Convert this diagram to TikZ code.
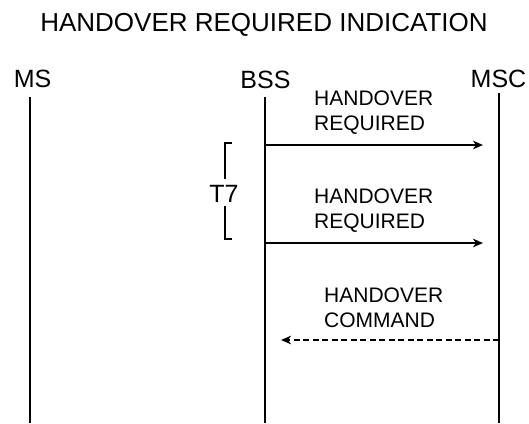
\documentclass[tikz,border=0pt]{standalone}
\usepackage{fontspec}
\setmainfont{Liberation Sans}
\usetikzlibrary{arrows.meta}
\tikzset{
    entity/.style={anchor=base, inner sep=0pt, font=\fontsize{25}{30}\selectfont},
    msg/.style={anchor=south west, inner sep=0pt, text depth=0pt, align=left, font=\fontsize{21}{25}\selectfont},
    lifeline/.style={line width=2pt},
    signal/.style={line width=2pt, -{Stealth[length=10pt,width=8.5pt,inset=3pt]}},
}

\begin{document}
\begin{tikzpicture}[x=1pt, y=-1pt]
    \useasboundingbox (0,0) rectangle (529,423);

    \node[entity, font=\fontsize{26}{31}\selectfont] (title) at (264,31) {HANDOVER REQUIRED INDICATION};

    \node[entity] (ms) at (32.5,87) {MS};
    \node[entity] (bss) at (265.5,88) {BSS};
    \node[entity] (msc) at (498.5,87) {MSC};

    \coordinate (ms top) at (30,97);
    \coordinate (ms bot) at (30,423);
    \coordinate (bss top) at (265,97);
    \coordinate (bss bot) at (265,423);
    \coordinate (msc top) at (499,93);
    \coordinate (msc bot) at (499,423);
    \draw[lifeline] (ms top) -- (ms bot);
    \draw[lifeline] (bss top) -- (bss bot);
    \draw[lifeline] (msc top) -- (msc bot);

    % handover required, sent twice
    \coordinate (req1 from) at (265,145);
    \coordinate (req1 to) at (483,145);
    \draw[signal] (req1 from) -- (req1 to);
    \node[msg] (req1) at (314,131) {HANDOVER\\REQUIRED};

    \coordinate (req2 from) at (265,243);
    \coordinate (req2 to) at (483,243);
    \draw[signal] (req2 from) -- (req2 to);
    \node[msg] (req2) at (314,229) {HANDOVER\\REQUIRED};

    % timer T7
    \coordinate (t7 top) at (232,143);
    \coordinate (t7 bot) at (232,239);
    \node[entity] (t7) at (224,202) {T7};
    \draw[lifeline] (t7 top) -| (225,179);
    \draw[lifeline] (225,206) |- (t7 bot);

    % handover command
    \coordinate (cmd from) at (499,340);
    \coordinate (cmd to) at (281,340);
    \draw[signal, dash pattern=on 6pt off 3.5pt] (cmd from) -- (cmd to);
    \node[msg] (cmd) at (324,328) {HANDOVER\\COMMAND};

\end{tikzpicture}
\end{document}
